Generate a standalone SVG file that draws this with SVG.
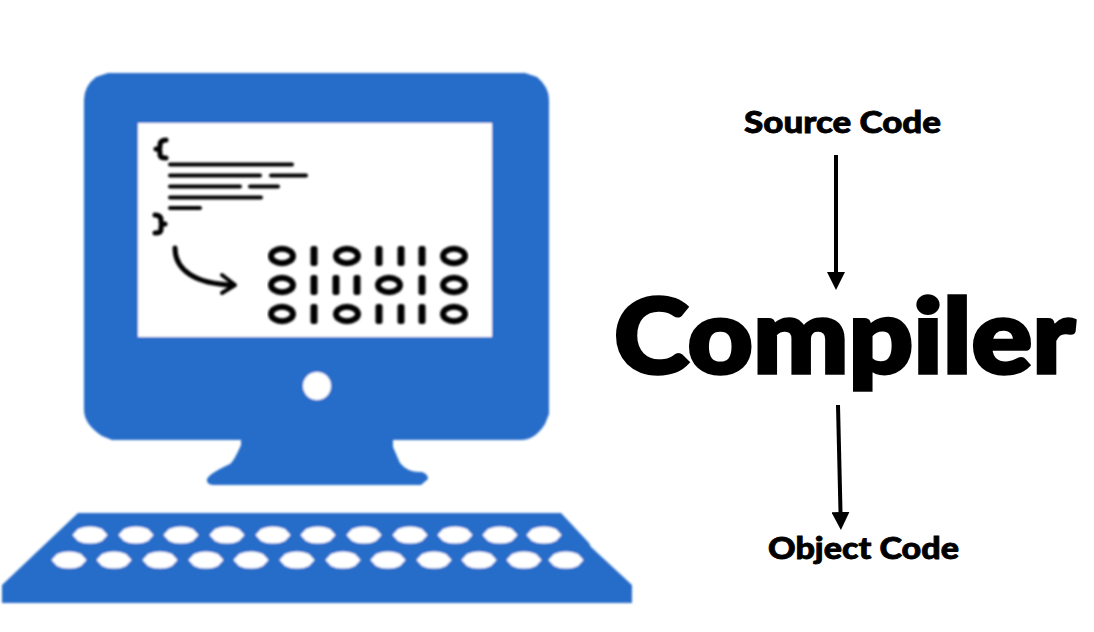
<svg xmlns="http://www.w3.org/2000/svg" xmlns:xlink="http://www.w3.org/1999/xlink" width="1094" height="632" viewBox="0 0 1094 632">
<style>
.blue{fill:#276cc9}
.white{fill:#fff}
.ink{fill:#000}
.bar{stroke:#000;stroke-width:4;stroke-linecap:round;fill:none}
.zero{fill:none;stroke:#000;stroke-width:6}
.brace{fill:none;stroke:#000;stroke-width:5;stroke-linecap:round;stroke-linejoin:round}
.label{font-family:"Lato","Liberation Sans",sans-serif;font-weight:900;fill:#000;stroke:#000}
.conn{stroke:#000;stroke-width:4;fill:none}
</style>
<defs>
<filter id="soft" x="-2%" y="-2%" width="104%" height="104%"><feGaussianBlur stdDeviation="0.8"/></filter>
<path id="key" class="white" d="M-17.500,0 L-12,-6 Q-7,-8.500 0,-8.500 Q7,-8.500 12,-6 L17.500,0 L12,6 Q7,8.500 0,8.500 Q-7,8.500 -12,6 Z"/>
<rect id="one" class="ink" x="-3.500" y="-10" width="7" height="20" rx="2.500"/>
<ellipse id="zero" class="zero" rx="11" ry="7.200"/>
<marker id="head" markerUnits="userSpaceOnUse" markerWidth="18" markerHeight="18" refX="0" refY="9" orient="auto"><path d="M0,0 L18,9 L0,18 Z" fill="#000"/></marker>
</defs>
<rect width="1094" height="632" fill="#fff"/>
<g id="monitor" filter="url(#soft)">
<path class="blue" d="M108,73 H525 L537,77 Q549,87 549,100 V414 L545,424 Q535,440 521,440 H393 V447 L400,463 Q408,473 422,472 Q428,474 428,479 L421,485 H213 Q206,484 207,479 Q210,473 230,464 Q234,461 241,445 V440 H112 L102,436 Q84,424 84,410 V100 Q84,86 96,77 Z"/>
<rect class="white" x="138" y="123" width="354" height="214"/>
<circle class="white" cx="317" cy="386" r="14"/>
</g>
<g id="source-lines" filter="url(#soft)">
<path class="brace" d="M166,140 Q160,140 160,145 V147 Q160,149 156,149 Q160,149 160,152 V155 Q160,158 166,158"/>
<path class="brace" d="M155,215 Q161,215 161,220 V222 Q161,224 165,224 Q161,224 161,227 V230 Q161,233 155,233"/>
<path class="bar" d="M170,164.500 H292 M170,175.500 H260 M271,175.500 H306 M170,186.500 H240 M250,186.500 H278 M170,197.500 H261 M170,208 H200"/>
<path d="M175,248 C175,270 195,284 233,285" fill="none" stroke="#000" stroke-width="5" stroke-linecap="round"/>
<path d="M222,275 L235,285 L222,293" fill="none" stroke="#000" stroke-width="4" stroke-linecap="round" stroke-linejoin="round"/>
</g>
<g id="binary" filter="url(#soft)">
<use href="#zero" x="282" y="256"/><use href="#one" x="314" y="256"/><use href="#zero" x="347" y="256"/><use href="#one" x="379" y="256"/><use href="#one" x="401" y="256"/><use href="#one" x="422" y="256"/><use href="#zero" x="454" y="256"/>
<use href="#zero" x="282" y="285"/><use href="#one" x="314" y="285"/><use href="#one" x="336" y="285"/><use href="#one" x="357" y="285"/><use href="#zero" x="389" y="285"/><use href="#one" x="422" y="285"/><use href="#zero" x="454" y="285"/>
<use href="#zero" x="282" y="314"/><use href="#one" x="314" y="314"/><use href="#zero" x="347" y="314"/><use href="#one" x="379" y="314"/><use href="#one" x="401" y="314"/><use href="#one" x="422" y="314"/><use href="#zero" x="454" y="314"/>
</g>
<g id="keyboard" filter="url(#soft)">
<path class="blue" d="M78,513 H561 L589,543 L591,547 L632,585 V603 H2 V585 Z"/>
<use href="#key" x="90" y="535"/><use href="#key" x="136" y="535"/><use href="#key" x="181" y="535"/><use href="#key" x="227" y="535"/><use href="#key" x="273" y="535"/><use href="#key" x="318" y="535"/><use href="#key" x="364" y="535"/><use href="#key" x="410" y="535"/><use href="#key" x="455" y="535"/><use href="#key" x="500" y="535"/><use href="#key" x="544" y="535"/>
<use href="#key" x="69" y="560"/><use href="#key" x="114" y="560"/><use href="#key" x="160" y="560"/><use href="#key" x="206" y="560"/><use href="#key" x="251" y="560"/><use href="#key" x="297" y="560"/><use href="#key" x="343" y="560"/><use href="#key" x="388" y="560"/><use href="#key" x="434" y="560"/><use href="#key" x="479" y="560"/><use href="#key" x="524" y="560"/><use href="#key" x="566" y="560"/>
</g>
<g id="connectors">
<line class="conn" x1="836" y1="155" x2="836" y2="272" marker-end="url(#head)"/>
<line class="conn" x1="838" y1="405" x2="840.500" y2="512" marker-end="url(#head)"/>
</g>
<g id="source-code"><text class="label" x="744" y="132.500" font-size="30" stroke-width="0.800" textLength="197" lengthAdjust="spacingAndGlyphs">Source Code</text></g>
<g id="compiler"><text class="label" x="614" y="373" font-size="102" stroke-width="3.500" textLength="461" lengthAdjust="spacingAndGlyphs">Compiler</text></g>
<g id="object-code"><text class="label" x="768" y="558.500" font-size="30" stroke-width="0.800" textLength="191" lengthAdjust="spacingAndGlyphs">Object Code</text></g>
</svg>
